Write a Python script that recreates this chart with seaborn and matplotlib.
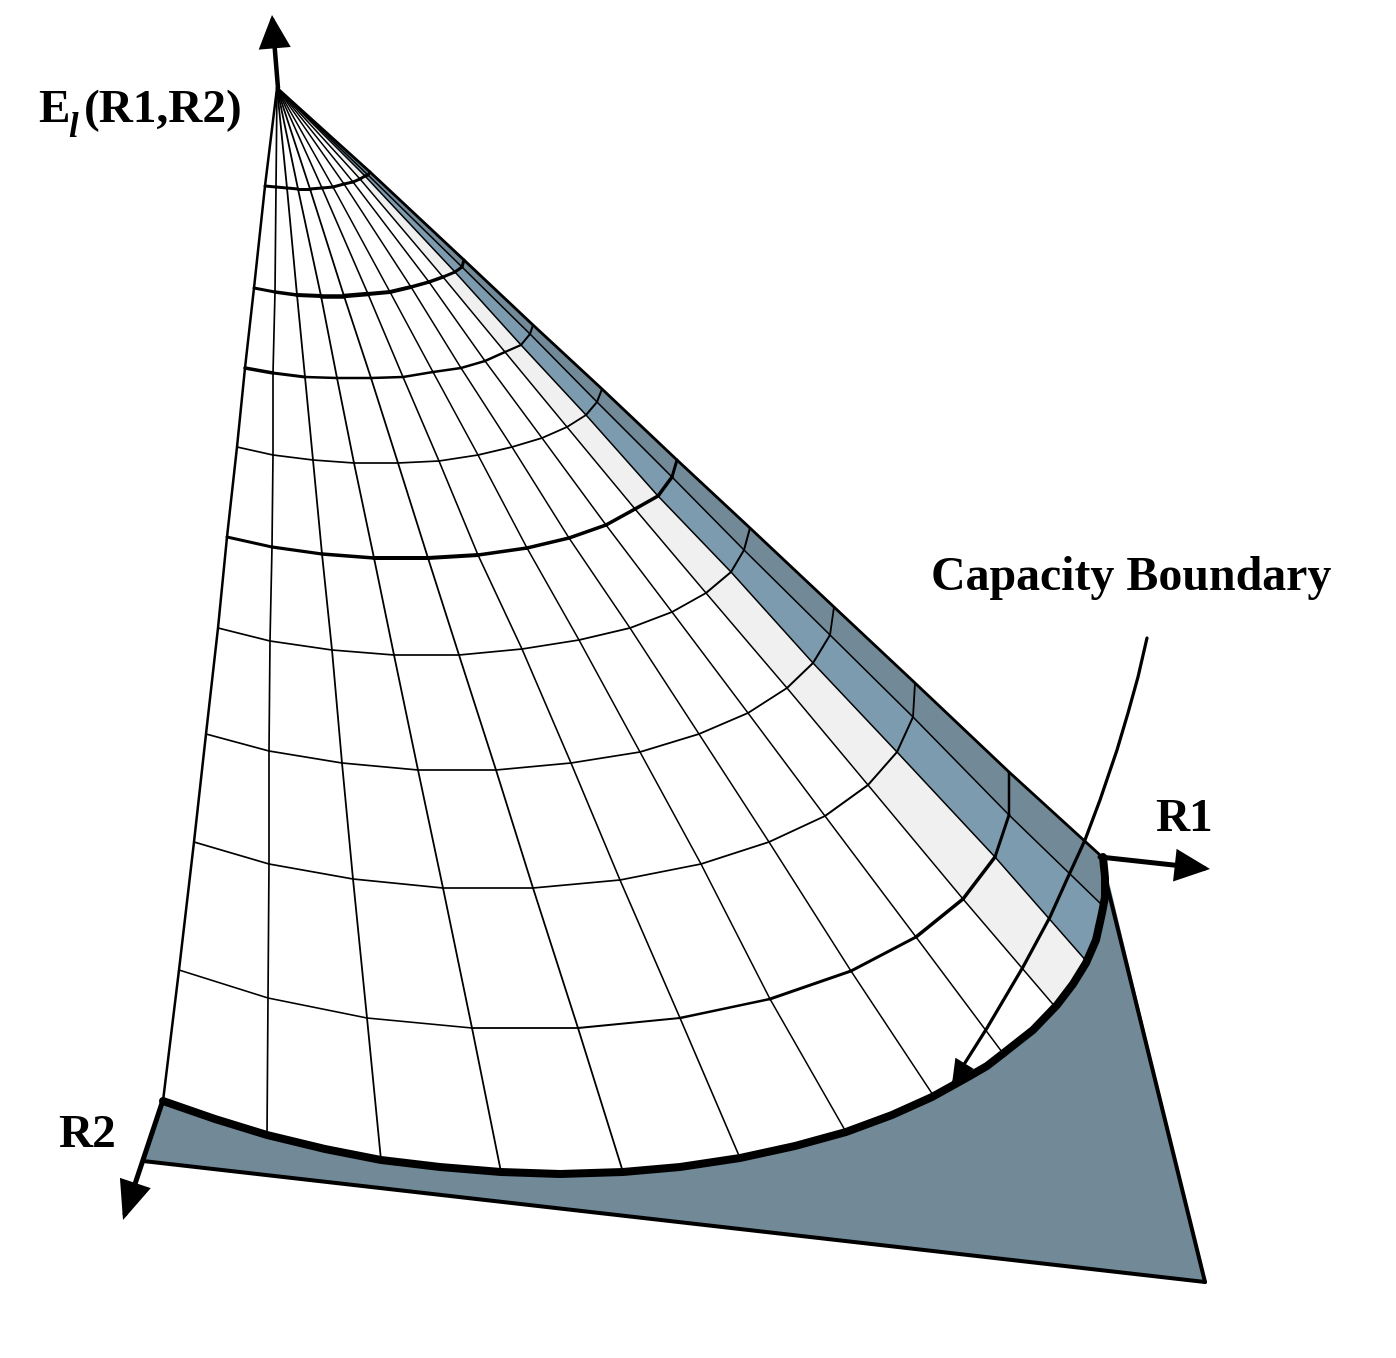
import numpy as np
import matplotlib
matplotlib.use('Agg')
import matplotlib.pyplot as plt
import seaborn as sns

sns.set_theme(style='white')
plt.rcParams['font.family'] = ['Liberation Serif', 'DejaVu Serif']
plt.rcParams['text.color'] = 'black'

W, H = 1396, 1358
PX = 0.72  # one image pixel in points at dpi 100

dark_steel = '#728997'
mid_steel = '#7d9baf'
pale_gray = '#f0f0f0'

# picture coordinates, y grows downward
apex = (277, 88)

# constant-energy curves, each crossing the 13 ribs left to right
level1_x = [265, 276, 287, 298, 310, 322, 333, 344, 353, 360, 365, 368, 370]
level1_y = [186, 187, 188, 189, 189, 188, 187, 184, 182, 179, 176, 175, 172]
level2_x = [254, 275, 297, 321, 344, 368, 390, 411, 429, 443, 455, 462, 464]
level2_y = [288, 292, 295, 296, 296, 294, 292, 287, 282, 277, 272, 267, 260]
level3_x = [245, 273, 305, 337, 371, 403, 433, 461, 485, 505, 521, 530, 533]
level3_y = [368, 373, 377, 378, 378, 377, 372, 368, 361, 352, 345, 334, 325]
level4_x = [237, 273, 313, 354, 398, 439, 478, 512, 542, 567, 586, 597, 602]
level4_y = [447, 455, 460, 463, 463, 461, 455, 447, 438, 427, 415, 402, 389]
level5_x = [227, 272, 322, 374, 428, 478, 527, 569, 606, 635, 658, 672, 677]
level5_y = [537, 547, 554, 558, 558, 555, 548, 538, 525, 509, 496, 477, 460]
level6_x = [218, 270, 332, 394, 459, 522, 579, 630, 672, 706, 731, 744, 750]
level6_y = [628, 641, 650, 655, 655, 649, 640, 628, 612, 593, 572, 550, 528]
level7_x = [206, 269, 342, 418, 496, 571, 640, 699, 748, 787, 813, 830, 834]
level7_y = [734, 751, 763, 770, 770, 763, 752, 734, 713, 688, 663, 635, 607]
level8_x = [194, 269, 353, 443, 533, 620, 701, 769, 825, 868, 897, 913, 915]
level8_y = [842, 864, 879, 888, 888, 880, 864, 842, 816, 785, 752, 717, 683]
level9_x = [179, 268, 367, 472, 578, 680, 770, 851, 916, 963, 995, 1009, 1009]
level9_y = [970, 998, 1018, 1028, 1028, 1018, 999, 971, 937, 899, 857, 815, 772]
rib_end_x = [163, 267, 381, 501, 623, 740, 846, 935, 1005, 1057, 1088, 1102, 1100]
rib_end_y = [1101, 1135, 1160, 1172, 1172, 1158, 1132, 1098, 1056, 1009, 963, 905, 855]

# capacity boundary, finer than the rib ends
boundary_x = [163, 215, 267, 325, 381, 440, 501, 560, 623, 680, 740, 795, 846, 892, 932, 968, 987,
              1005, 1033, 1057, 1073, 1086, 1096, 1102, 1105, 1105, 1103]
boundary_y = [1101, 1119, 1135, 1149, 1160, 1167, 1172, 1174, 1172, 1167, 1158, 1146, 1132, 1115, 1097, 1077, 1066,
              1052, 1030, 1005, 984, 963, 940, 913, 897, 878, 857]

base_corner_right = (1205, 1282)
base_corner_left = (143, 1161)
base_edge_top = (1107, 885)

# axis arrows: start, tip
energy_axis = [(278, 88), (272, 15)]
r1_axis = [(1100, 857), (1210, 869)]
r2_axis = [(163, 1100), (123, 1220)]

pointer_x = [1147, 1138, 1128, 1117, 1100, 1085, 1068, 1050, 1023, 987, 963]
pointer_y = [638, 677, 713, 750, 800, 840, 877, 917, 967, 1028, 1066]
pointer_tip = (952, 1084)

level_xs = [level1_x, level2_x, level3_x, level4_x, level5_x, level6_x, level7_x, level8_x, level9_x, rib_end_x]
level_ys = [level1_y, level2_y, level3_y, level4_y, level5_y, level6_y, level7_y, level8_y, level9_y, rib_end_y]

# line widths in image pixels, per segment of each curve
level_widths = [
    [3, 3, 3, 3, 3, 3, 3, 3, 3, 3, 3, 3],
    [3, 3.5, 4, 4.5, 4.5, 4, 4, 3.5, 3.5, 3, 3, 3],
    [3.5, 3, 2.5, 2.5, 2.5, 2.5, 2.5, 2.5, 2.5, 2.2, 2, 2],
    [1.7, 1.7, 1.7, 1.7, 1.7, 1.7, 1.8, 1.8, 1.8, 1.8, 2, 2],
    [3, 3.2, 3.5, 4, 4, 3.5, 3.5, 3.5, 3.5, 3.5, 3.5, 3],
    [1.7, 1.7, 1.7, 1.7, 1.7, 1.7, 1.8, 1.8, 1.8, 2, 2, 2],
    [1.7, 1.7, 1.7, 1.7, 1.7, 1.7, 1.8, 1.8, 1.8, 2, 2, 1.8],
    [1.7, 1.7, 1.7, 1.7, 1.7, 1.7, 1.8, 1.8, 2, 2, 2, 1.8],
    [1.6, 1.6, 1.6, 1.8, 2, 2.5, 3, 3, 3.5, 3.5, 3, 2.5],
]
rib_widths = [2.5, 1.7, 1.8, 1.8, 1.8, 1.6, 1.5, 1.5, 1.5, 1.5, 1.5, 1.5, 2.8]


def line(ax, xs, ys, width):
    sns.lineplot(x=list(xs), y=list(ys), sort=False, estimator=None, errorbar=None, color='black',
                 linewidth=width * PX, solid_capstyle='round', ax=ax)


def arrow(ax, start, tip, shaft, head_len, head_half):
    style = f'-|>,head_length={head_len * PX:.1f},head_width={head_half * PX:.1f}'
    ax.annotate('', xy=tip, xytext=start,
                arrowprops=dict(arrowstyle=style, mutation_scale=1, lw=shaft * PX, color='black',
                                shrinkA=0, shrinkB=0, joinstyle='miter'))


fig = plt.figure(figsize=(W / 100, H / 100), dpi=100)
ax = fig.add_axes([0, 0, 1, 1])

# ribs as one array per rib, apex first
grid_x = np.array(level_xs)
grid_y = np.array(level_ys)
rib_x = [[apex[0]] + grid_x[:, i].tolist() for i in range(13)]
rib_y = [[apex[1]] + grid_y[:, i].tolist() for i in range(13)]

base_x = boundary_x + [base_corner_right[0], base_corner_left[0]]
base_y = boundary_y + [base_corner_right[1], base_corner_left[1]]
ax.fill(base_x, base_y, color=dark_steel, lw=0)

for i, col in zip([9, 10, 11], [pale_gray, mid_steel, dark_steel]):
    ax.fill(rib_x[i] + rib_x[i + 1][::-1], rib_y[i] + rib_y[i + 1][::-1], color=col, lw=0)

for i in range(13):
    line(ax, rib_x[i], rib_y[i], rib_widths[i])

for xs, ys, widths in zip(level_xs[:-1], level_ys[:-1], level_widths):
    for j, w in enumerate(widths):
        line(ax, xs[j:j + 2], ys[j:j + 2], w)

line(ax, [base_edge_top[0], base_corner_right[0]], [base_edge_top[1], base_corner_right[1]], 4)
line(ax, [base_corner_left[0], base_corner_right[0]], [base_corner_left[1], base_corner_right[1]], 4)
line(ax, boundary_x, boundary_y, 8)

arrow(ax, *energy_axis, 4.5, 26, 12.5)
arrow(ax, *r1_axis, 5, 27, 12.5)
arrow(ax, *r2_axis, 5, 30, 12.5)

line(ax, pointer_x, pointer_y, 3.2)
arrow(ax, (pointer_x[-1], pointer_y[-1]), pointer_tip, 3, 19, 8.5)

label_size = 34
ax.text(38, 122, 'E', fontsize=label_size, fontweight='bold', va='baseline')
ax.text(68, 137, 'l', fontsize=25, fontweight='bold', fontstyle='italic', va='baseline')
ax.text(84, 122, '(R1,R2)', fontsize=label_size, fontweight='bold', va='baseline')
ax.text(931, 590, 'Capacity Boundary', fontsize=34.5, fontweight='bold', va='baseline')
ax.text(1155, 831, 'R1', fontsize=label_size, fontweight='bold', va='baseline')
ax.text(58, 1147, 'R2', fontsize=label_size, fontweight='bold', va='baseline')

ax.set_xlim(0, W)
ax.set_ylim(H, 0)
ax.axis('off')

fig.savefig('out.png', dpi=100, facecolor='white')
plt.close(fig)
